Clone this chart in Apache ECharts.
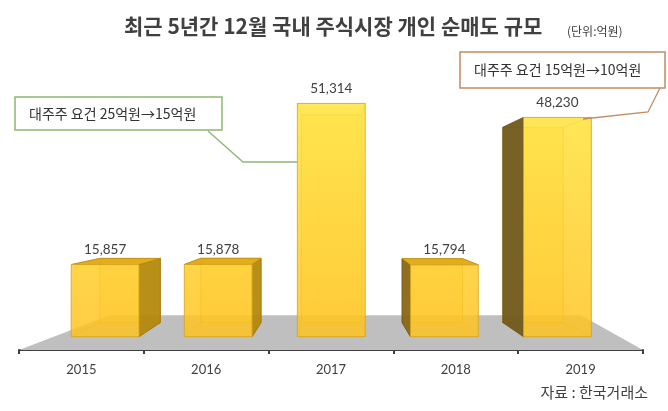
<!DOCTYPE html>
<html>
<head>
<meta charset="utf-8">
<script src="https://cdn.jsdelivr.net/npm/echarts@6/dist/echarts.min.js"></script>
<style>
html, body { margin: 0; padding: 0; background: #fff; }
#main { width: 668px; height: 411px; }
</style>
</head>
<body>
<div id="main"></div>
<script>
// 연도별 12월 개인 순매도 (억원)
var years = ['2015', '2016', '2017', '2018', '2019'];
var sellValues = [15857, 15878, 51314, 15794, 48230];
var notes = ['대주주 요건 25억원→15억원', '대주주 요건 15억원→10억원'];

var KR_FONT = '"Noto Sans CJK KR", sans-serif';
var NUM_FONT = 'Lato, "Noto Sans", sans-serif';

// 3D 느낌 (원근) 파라미터
var VX = 334, VY = 208;      // 소실점
var K_FRONT = 0.906;          // 막대 앞면 깊이
var K_BACK = 0.807;           // 막대 뒷면 깊이
var FLOOR_VX = 390, K_FLOOR = 0.755;
var BAR_RATIO = 0.6;

function proj(x, y, k, vx) {
    vx = vx == null ? VX : vx;
    return [vx + (x - vx) * k, VY + (y - VY) * k];
}

var frontColor = {
    type: 'linear', x: 0, y: 100, x2: 0, y2: 340, global: true,
    colorStops: [{offset: 0, color: '#FFE43A'}, {offset: 1, color: '#FFC21F'}]
};

function renderFloor(params, api) {
    var cs = params.coordSys;
    var y0 = api.coord([0, 0])[1];
    var fl = [cs.x, y0], fr = [cs.x + cs.width, y0];
    var bl = proj(cs.x, y0, K_FLOOR, FLOOR_VX);
    var br = proj(cs.x + cs.width, y0, K_FLOOR, FLOOR_VX);
    return {
        type: 'polygon',
        shape: {points: [fl, fr, br, bl]},
        style: {fill: '#BFBFBF'}
    };
}

function renderBar(params, api) {
    var top = api.coord([api.value(0), api.value(1)]);
    var base = api.coord([api.value(0), 0]);
    var half = api.size([1, 0])[0] * BAR_RATIO / 2;
    var cx = top[0];

    var FLt = proj(cx - half, top[1], K_FRONT), FRt = proj(cx + half, top[1], K_FRONT);
    var FLb = proj(cx - half, base[1], K_FRONT), FRb = proj(cx + half, base[1], K_FRONT);
    var BLt = proj(cx - half, top[1], K_BACK), BRt = proj(cx + half, top[1], K_BACK);
    var BLb = proj(cx - half, base[1], K_BACK), BRb = proj(cx + half, base[1], K_BACK);

    var edge = 'rgba(190,135,0,0.55)';
    var children = [];
    // 뒷면 테두리 (앞면 너머로 비침)
    children.push({
        type: 'polygon',
        shape: {points: [BLt, BRt, BRb, BLb]},
        style: {fill: 'rgba(255,200,30,0.3)', stroke: edge, lineWidth: 1}
    });
    [[FLt, BLt], [FRt, BRt], [FLb, BLb], [FRb, BRb]].forEach(function (p) {
        children.push({
            type: 'line',
            shape: {x1: p[0][0], y1: p[0][1], x2: p[1][0], y2: p[1][1]},
            style: {stroke: edge, lineWidth: 1}
        });
    });
    if (BRt[0] > FRt[0] + 0.5) {
        children.push({
            type: 'polygon',
            shape: {points: [FRt, BRt, BRb, FRb]},
            style: {fill: 'rgba(178,135,10,0.92)', stroke: 'rgba(160,120,10,0.8)', lineWidth: 1}
        });
    }
    if (BLt[0] < FLt[0] - 0.5) {
        var dark = cx > 500 ? 'rgba(112,88,28,0.95)' : 'rgba(135,102,20,0.93)';
        children.push({
            type: 'polygon',
            shape: {points: [FLt, BLt, BLb, FLb]},
            style: {fill: dark, stroke: 'rgba(110,85,20,0.8)', lineWidth: 1}
        });
    }
    if (BLt[1] < FLt[1] - 0.5) {
        children.push({
            type: 'polygon',
            shape: {points: [FLt, FRt, BRt, BLt]},
            style: {fill: 'rgba(226,168,18,0.95)', stroke: 'rgba(190,140,10,0.8)', lineWidth: 1}
        });
    }
    children.push({
        type: 'polygon',
        shape: {points: [FLt, FRt, FRb, FLb]},
        style: {fill: frontColor, opacity: 0.84, stroke: '#D6A419', lineWidth: 1}
    });
    children.push({
        type: 'text',
        style: {
            text: echarts.format.addCommas(api.value(1)),
            x: (FLt[0] + FRt[0]) / 2, y: FLt[1] - 15,
            fill: '#404040', font: '13.5px ' + NUM_FONT,
            align: 'center', verticalAlign: 'middle',
            textAlign: 'center', textVerticalAlign: 'middle'
        }
    });
    return {type: 'group', children: children};
}

function noteBox(x, y, w, h, color, text, leader) {
    return [{
        type: 'rect', z: 10,
        shape: {x: x, y: y, width: w, height: h},
        style: {fill: '#fff', stroke: color, lineWidth: 1.5}
    }, {
        type: 'text', z: 11, x: x + 14, y: y + h / 2,
        style: {
            text: text, fill: '#333', font: '14px ' + KR_FONT,
            verticalAlign: 'middle', textVerticalAlign: 'middle'
        }
    }, {
        type: 'polyline', z: 10,
        shape: {points: leader},
        style: {stroke: color, lineWidth: 1.3, fill: null}
    }];
}

var chart = echarts.init(document.getElementById('main'));
var option = {
    backgroundColor: '#fff',
    animation: false,
    grid: {left: 19, right: 25, top: 49, bottom: 61},
    xAxis: {
        type: 'category',
        data: years,
        offset: 2,
        axisLine: {lineStyle: {color: '#404040', width: 2}},
        axisTick: {show: true, length: 4, lineStyle: {color: '#404040', width: 2}},
        axisLabel: {color: '#404040', fontSize: 13, fontFamily: NUM_FONT, margin: 11}
    },
    yAxis: {
        type: 'value', min: 0, max: 60000, show: false,
        splitLine: {show: false}
    },
    series: [{
        type: 'custom',
        renderItem: renderFloor,
        data: [[0, 0]],
        z: 1,
        silent: true
    }, {
        type: 'custom',
        renderItem: renderBar,
        data: sellValues.map(function (v, i) { return [i, v]; }),
        z: 2
    }],
    graphic: [{
        type: 'text', left: 124, top: 16,
        style: {text: '최근 5년간 12월 국내 주식시장 개인 순매도 규모', fill: '#404040', font: 'bold 21px ' + KR_FONT}
    }, {
        type: 'text', left: 567, top: 25,
        style: {text: '(단위:억원)', fill: '#404040', font: '12px ' + KR_FONT}
    }, {
        type: 'text', right: 20, top: 385,
        style: {text: '자료 : 한국거래소', fill: '#404040', font: '15px ' + KR_FONT}
    }]
        .concat(noteBox(15, 97, 207, 33, '#8DB771', notes[0], [[208, 131], [243, 162], [297, 162]]))
        .concat(noteBox(460, 52, 205, 36, '#C48B61', notes[1], [[660, 88], [648, 112], [583, 119]]))
};
chart.setOption(option);
window.addEventListener('resize', function () {
    chart.resize();
});
</script>
</body>
</html>
